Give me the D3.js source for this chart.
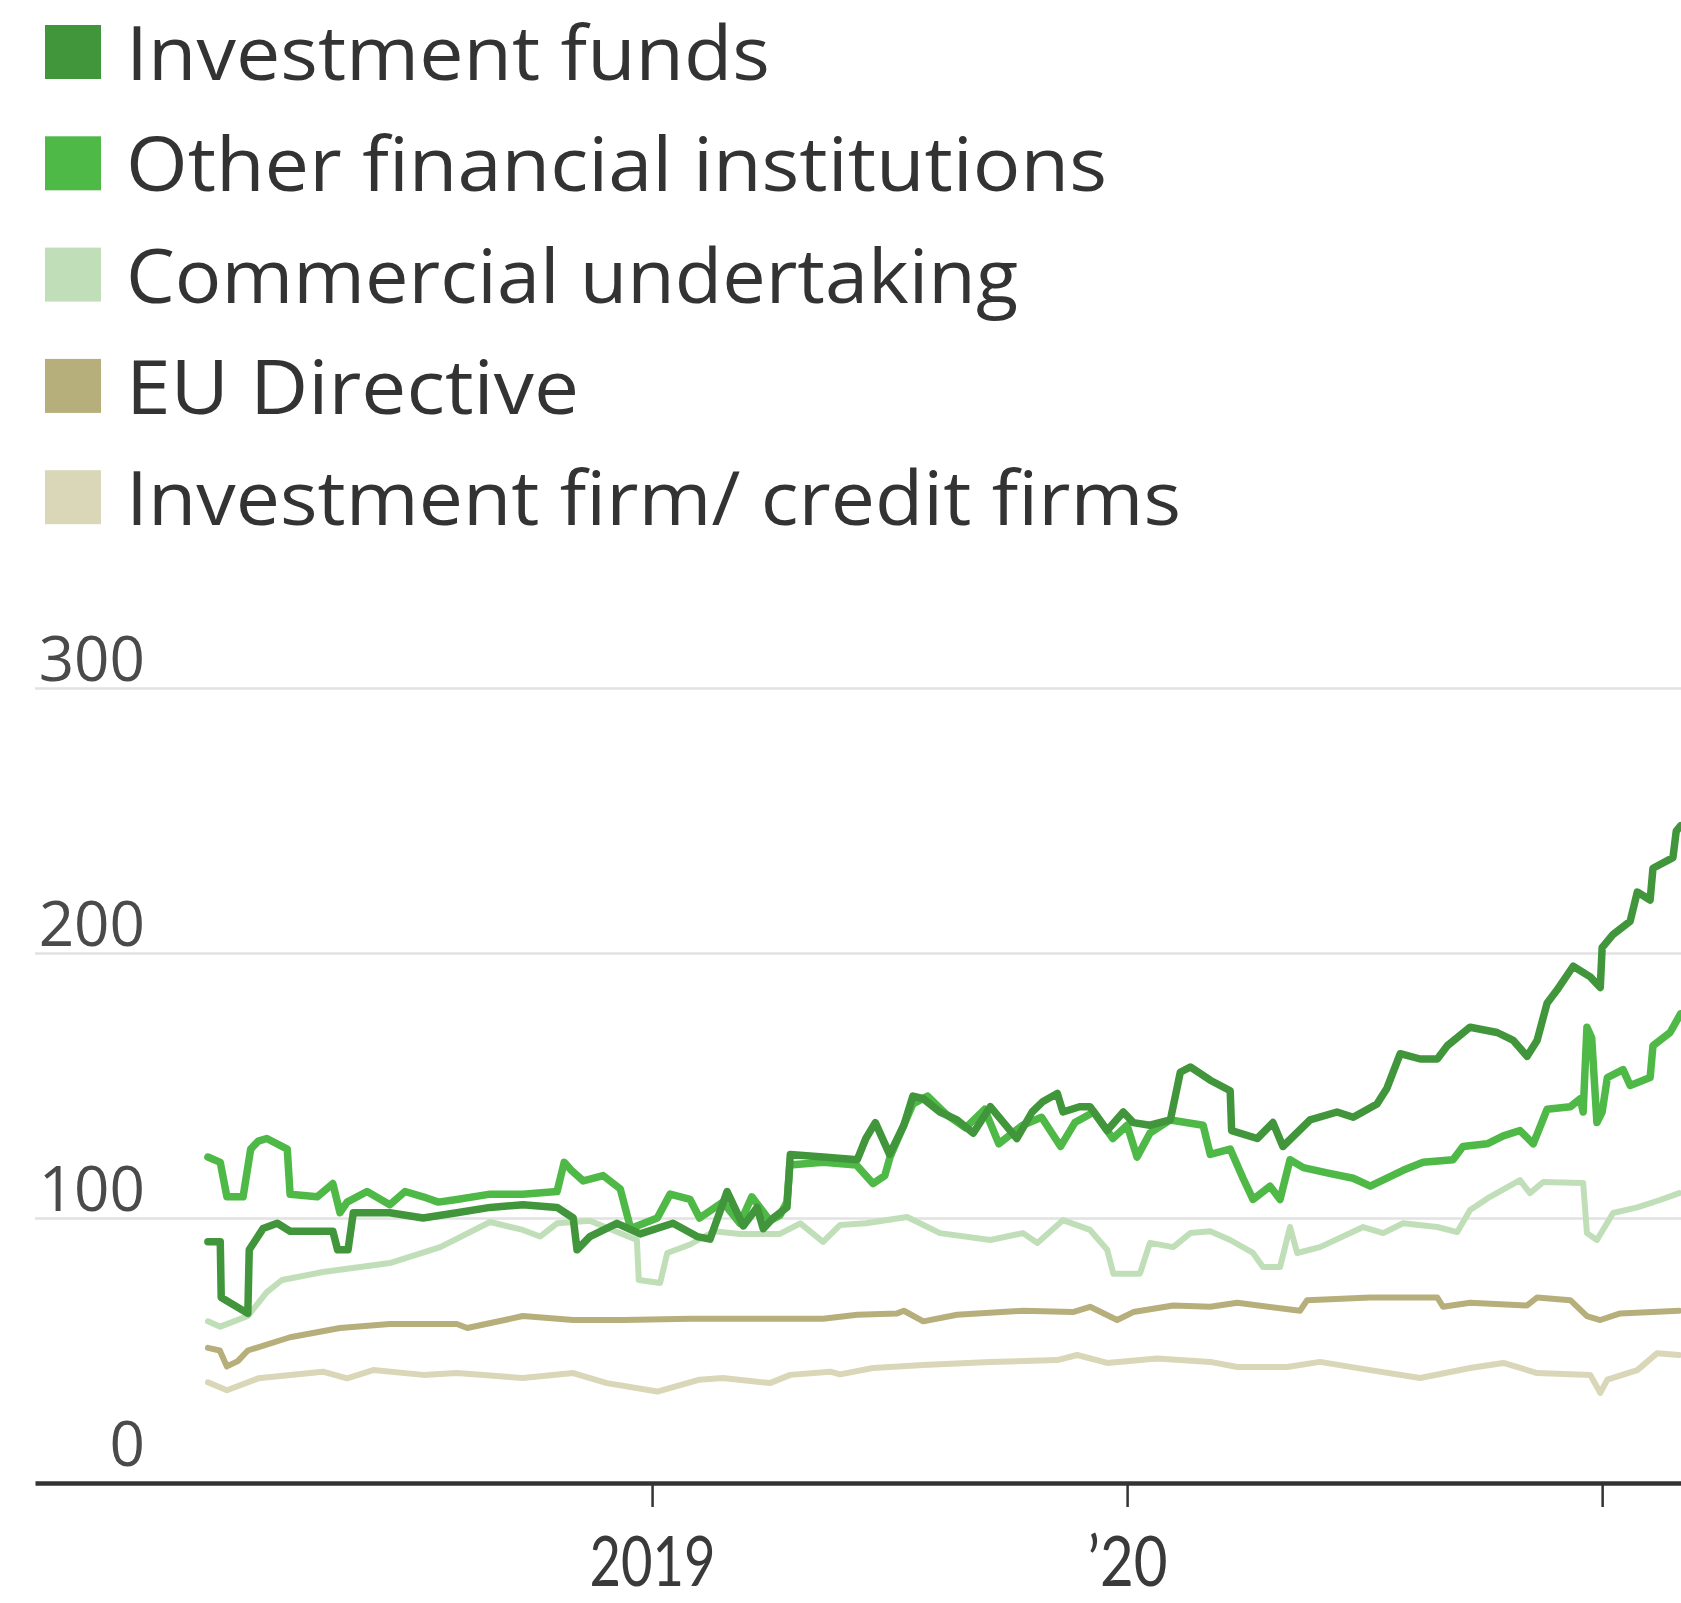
<!DOCTYPE html>
<html>
<head>
<meta charset="utf-8">
<script src="https://cdn.jsdelivr.net/npm/d3@7/dist/d3.min.js"></script>
<style>
  html, body { margin: 0; padding: 0; background: #ffffff; }
  svg { display: block; font-family: "Open Sans", "Noto Sans", sans-serif; }
</style>
</head>
<body>
<svg id="chart" width="1681" height="1603"></svg>
<script>
// Series names, in legend order
const seriesNames = [
  "Investment funds",
  "Other financial institutions",
  "Commercial undertaking",
  "EU Directive",
  "Investment firm/ credit firms"
];
const seriesColors = ["#41953b", "#4fb947", "#c0dfb9", "#b7af7b", "#dad6b8"];

// Axis ticks
const yTicks = [0, 100, 200, 300];
const xTicks = [2019, 2020, 2021];
const xTickLabels = ["2019", "\u201920", ""];

// Values by time (decimal year, value)
const investmentFunds = [
  [2018.065, 91], [2018.091, 91], [2018.093, 70], [2018.149, 64], [2018.152, 88],
  [2018.181, 96], [2018.211, 98], [2018.238, 95], [2018.328, 95], [2018.338, 88],
  [2018.360, 88], [2018.371, 102], [2018.448, 102], [2018.518, 100], [2018.589, 102],
  [2018.659, 104], [2018.728, 105], [2018.800, 104], [2018.834, 100], [2018.842, 88],
  [2018.869, 93], [2018.926, 98], [2018.975, 94], [2019.044, 98], [2019.095, 93],
  [2019.122, 92], [2019.158, 110], [2019.192, 97], [2019.221, 104], [2019.234, 96],
  [2019.255, 100], [2019.284, 104], [2019.291, 124], [2019.360, 123], [2019.432, 122],
  [2019.450, 130], [2019.470, 136], [2019.500, 124], [2019.530, 135], [2019.549, 146],
  [2019.571, 145], [2019.606, 140], [2019.642, 137], [2019.676, 132], [2019.712, 142],
  [2019.740, 136], [2019.768, 130], [2019.800, 140], [2019.823, 144], [2019.853, 147],
  [2019.865, 140], [2019.900, 142], [2019.922, 142], [2019.958, 133], [2019.992, 140],
  [2020.013, 136], [2020.048, 135], [2020.091, 137], [2020.112, 155], [2020.133, 157],
  [2020.175, 152], [2020.217, 148], [2020.220, 133], [2020.274, 130], [2020.307, 136],
  [2020.328, 127], [2020.385, 137], [2020.442, 140], [2020.476, 138], [2020.526, 143],
  [2020.547, 149], [2020.575, 162], [2020.617, 160], [2020.653, 160], [2020.674, 165],
  [2020.722, 172], [2020.779, 170], [2020.813, 167], [2020.842, 161], [2020.863, 167],
  [2020.884, 181], [2020.905, 186], [2020.939, 195], [2020.975, 191], [2020.996, 187],
  [2021.000, 202], [2021.023, 207], [2021.059, 212], [2021.074, 223], [2021.101, 220],
  [2021.107, 232], [2021.149, 236], [2021.156, 246], [2021.165, 248]
];

const otherFinancial = [
  [2018.065, 123], [2018.091, 121], [2018.105, 108], [2018.139, 108], [2018.155, 126],
  [2018.171, 129], [2018.189, 130], [2018.232, 126], [2018.238, 109], [2018.295, 108],
  [2018.328, 113], [2018.343, 102], [2018.358, 106], [2018.400, 110], [2018.448, 105],
  [2018.480, 110], [2018.518, 108], [2018.550, 106], [2018.589, 107], [2018.659, 109],
  [2018.728, 109], [2018.800, 110], [2018.815, 121], [2018.830, 118], [2018.855, 114],
  [2018.897, 116], [2018.933, 111], [2018.955, 96], [2019.011, 100], [2019.038, 109],
  [2019.080, 107], [2019.100, 100], [2019.149, 106], [2019.185, 98], [2019.210, 108],
  [2019.248, 99], [2019.269, 101], [2019.284, 106], [2019.290, 120], [2019.360, 121],
  [2019.430, 120], [2019.465, 113], [2019.490, 116], [2019.501, 123], [2019.549, 143],
  [2019.580, 146], [2019.620, 139], [2019.660, 134], [2019.700, 141], [2019.730, 128],
  [2019.780, 135], [2019.820, 138], [2019.860, 127], [2019.890, 136], [2019.930, 140],
  [2019.970, 130], [2020.000, 135], [2020.021, 123], [2020.048, 132], [2020.091, 137],
  [2020.160, 135], [2020.175, 124], [2020.217, 126], [2020.244, 115], [2020.265, 107],
  [2020.301, 112], [2020.322, 107], [2020.343, 122], [2020.371, 119], [2020.421, 117],
  [2020.476, 115], [2020.512, 112], [2020.581, 118], [2020.623, 121], [2020.686, 122],
  [2020.707, 127], [2020.758, 128], [2020.792, 131], [2020.827, 133], [2020.855, 128],
  [2020.884, 141], [2020.933, 142], [2020.954, 145], [2020.960, 140], [2020.968, 172],
  [2020.978, 168], [2020.989, 136], [2021.000, 140], [2021.011, 153], [2021.044, 156],
  [2021.059, 150], [2021.101, 153], [2021.107, 165], [2021.143, 170], [2021.165, 177]
];

const commercialUndertaking = [
  [2018.065, 61], [2018.091, 59], [2018.149, 63], [2018.189, 72], [2018.221, 76.6],
  [2018.307, 79.6], [2018.448, 83], [2018.554, 89], [2018.659, 98.5], [2018.728, 95.5],
  [2018.764, 93], [2018.800, 98], [2018.869, 99], [2018.968, 91.7], [2018.972, 76.6],
  [2019.017, 75.5], [2019.032, 86.8], [2019.080, 90], [2019.130, 95], [2019.185, 94],
  [2019.269, 94], [2019.312, 98], [2019.360, 91], [2019.396, 97.4], [2019.450, 98],
  [2019.537, 100.4], [2019.606, 94.3], [2019.712, 91.7], [2019.781, 94.3], [2019.811, 90.6],
  [2019.865, 99.2], [2019.922, 95.5], [2019.958, 88], [2019.971, 79], [2020.027, 79],
  [2020.048, 90.6], [2020.097, 89], [2020.133, 94.3], [2020.175, 95], [2020.217, 91.7],
  [2020.265, 86.8], [2020.286, 81.5], [2020.322, 81.5], [2020.343, 96.6], [2020.358, 86.8],
  [2020.406, 89], [2020.497, 96.6], [2020.539, 94.3], [2020.581, 98], [2020.653, 96.6],
  [2020.695, 94.7], [2020.722, 103], [2020.764, 108], [2020.827, 114.3], [2020.848, 109.4],
  [2020.876, 113.6], [2020.960, 113.2], [2020.968, 94.3], [2020.989, 91.7], [2021.023, 101.9],
  [2021.074, 104], [2021.122, 106.8], [2021.162, 109.4]
];

const euDirective = [
  [2018.065, 51], [2018.090, 50], [2018.105, 44], [2018.128, 46], [2018.149, 50],
  [2018.238, 55], [2018.343, 58.5], [2018.448, 60], [2018.589, 60], [2018.611, 58.5],
  [2018.728, 63], [2018.834, 61.5], [2018.939, 61.5], [2019.080, 62], [2019.221, 62],
  [2019.360, 62], [2019.432, 63.5], [2019.516, 64], [2019.530, 65], [2019.571, 61],
  [2019.642, 63.5], [2019.781, 65], [2019.886, 64.5], [2019.922, 66.5], [2019.979, 61.5],
  [2020.013, 64.5], [2020.097, 67], [2020.175, 66.5], [2020.232, 68], [2020.364, 65],
  [2020.379, 69], [2020.512, 70], [2020.653, 70], [2020.665, 66.5], [2020.722, 68],
  [2020.842, 67], [2020.863, 70], [2020.933, 69], [2020.968, 63], [2020.996, 61.5],
  [2021.038, 64], [2021.162, 65]
];

const investmentFirms = [
  [2018.065, 38], [2018.105, 35], [2018.171, 39.5], [2018.307, 42], [2018.358, 39.5],
  [2018.413, 42.6], [2018.518, 40.8], [2018.589, 41.5], [2018.728, 39.6], [2018.834, 41.5],
  [2018.905, 37.7], [2019.011, 34.5], [2019.100, 39], [2019.149, 39.6], [2019.248, 37.7],
  [2019.291, 40.8], [2019.375, 42], [2019.396, 41], [2019.465, 43.4], [2019.571, 44.5],
  [2019.712, 45.7], [2019.853, 46.4], [2019.895, 48.3], [2019.958, 45.3], [2020.063, 47],
  [2020.175, 45.7], [2020.232, 43.8], [2020.337, 43.8], [2020.406, 45.7], [2020.512, 42.6],
  [2020.617, 39.6], [2020.722, 43.4], [2020.792, 45.3], [2020.863, 41.5], [2020.975, 40.8],
  [2020.996, 34], [2021.011, 39], [2021.074, 42.6], [2021.116, 49], [2021.162, 48.3]
];

const seriesValues = [investmentFunds, otherFinancial, commercialUndertaking, euDirective, investmentFirms];

// ---- layout ----
const svg = d3.select("#chart");
const plotLeft = 35, plotRight = 1681, plotTop = 688, plotBottom = 1483;

const x = d3.scaleLinear().domain([2017.701, 2021.166]).range([plotLeft, plotRight]);
const y = d3.scaleLinear().domain([0, 300]).range([plotBottom, plotTop]);

// Legend
const legendTextLengths = [644, 981, 892, 453, 1055];
const legend = svg.append("g").attr("class", "legend");
seriesNames.forEach((name, i) => {
  const base = 80 + i * 111.3;
  legend.append("rect")
    .attr("x", 45).attr("y", base - 55)
    .attr("width", 56).attr("height", 54)
    .attr("fill", seriesColors[i]);
  legend.append("text")
    .attr("x", 126).attr("y", base)
    .attr("font-size", 75)
    .attr("fill", "#333333")
    .attr("textLength", legendTextLengths[i])
    .attr("lengthAdjust", "spacingAndGlyphs")
    .text(name);
});

// Y gridlines and labels
const yAxis = d3.axisLeft(y)
  .tickValues(yTicks.filter(d => d > 0))
  .tickSize(-(plotRight - plotLeft))
  .tickFormat(d3.format("d"));
const yg = svg.append("g").attr("transform", `translate(${plotLeft},0)`).call(yAxis);
yg.select(".domain").remove();
yg.selectAll(".tick line").attr("stroke", "#e2e2e2").attr("stroke-width", 2.5);
yg.selectAll(".tick text")
  .attr("x", 110).attr("dy", -8)
  .attr("text-anchor", "end")
  .attr("font-size", 62)
  .attr("font-family", "'Open Sans', sans-serif")
  .attr("fill", "#4a4a4a");
// zero label sits above the baseline axis
svg.append("text")
  .attr("x", plotLeft + 110).attr("y", y(0) - 17)
  .attr("text-anchor", "end")
  .attr("font-size", 62)
  .attr("fill", "#4a4a4a")
  .text(d3.format("d")(yTicks[0]));

// Lines, faintest first so the greens sit on top
const line = d3.line()
  .x(d => x(d[0]))
  .y(d => y(d[1]))
  .curve(d3.curveLinear);

const drawOrder = [4, 3, 2, 1, 0];
const strokeWidths = [7.5, 7.5, 6, 6, 6];
drawOrder.forEach(i => {
  svg.append("path")
    .datum(seriesValues[i])
    .attr("d", line)
    .attr("fill", "none")
    .attr("stroke", seriesColors[i])
    .attr("stroke-width", strokeWidths[i])
    .attr("stroke-linejoin", "round")
    .attr("stroke-linecap", "round");
});

// X axis
const xAxis = d3.axisBottom(x)
  .tickValues(xTicks)
  .tickSize(24)
  .tickSizeOuter(0)
  .tickFormat((d, i) => xTickLabels[i]);
const xg = svg.append("g").attr("transform", `translate(0,${plotBottom})`).call(xAxis);
xg.select(".domain").attr("stroke", "#333333").attr("stroke-width", 4.5);
xg.selectAll(".tick line").attr("stroke", "#333333").attr("stroke-width", 2.5);
xg.selectAll(".tick text")
  .attr("y", 103).attr("dy", 0)
  .attr("font-size", 69)
  .attr("font-family", "Lato, 'Open Sans', sans-serif")
  .attr("fill", "#3a3a3a")
  .each(function(d, i) {
    const lens = [126, 80, 0];
    if (lens[i]) d3.select(this).attr("textLength", lens[i]).attr("lengthAdjust", "spacingAndGlyphs");
  });
</script>
</body>
</html>
